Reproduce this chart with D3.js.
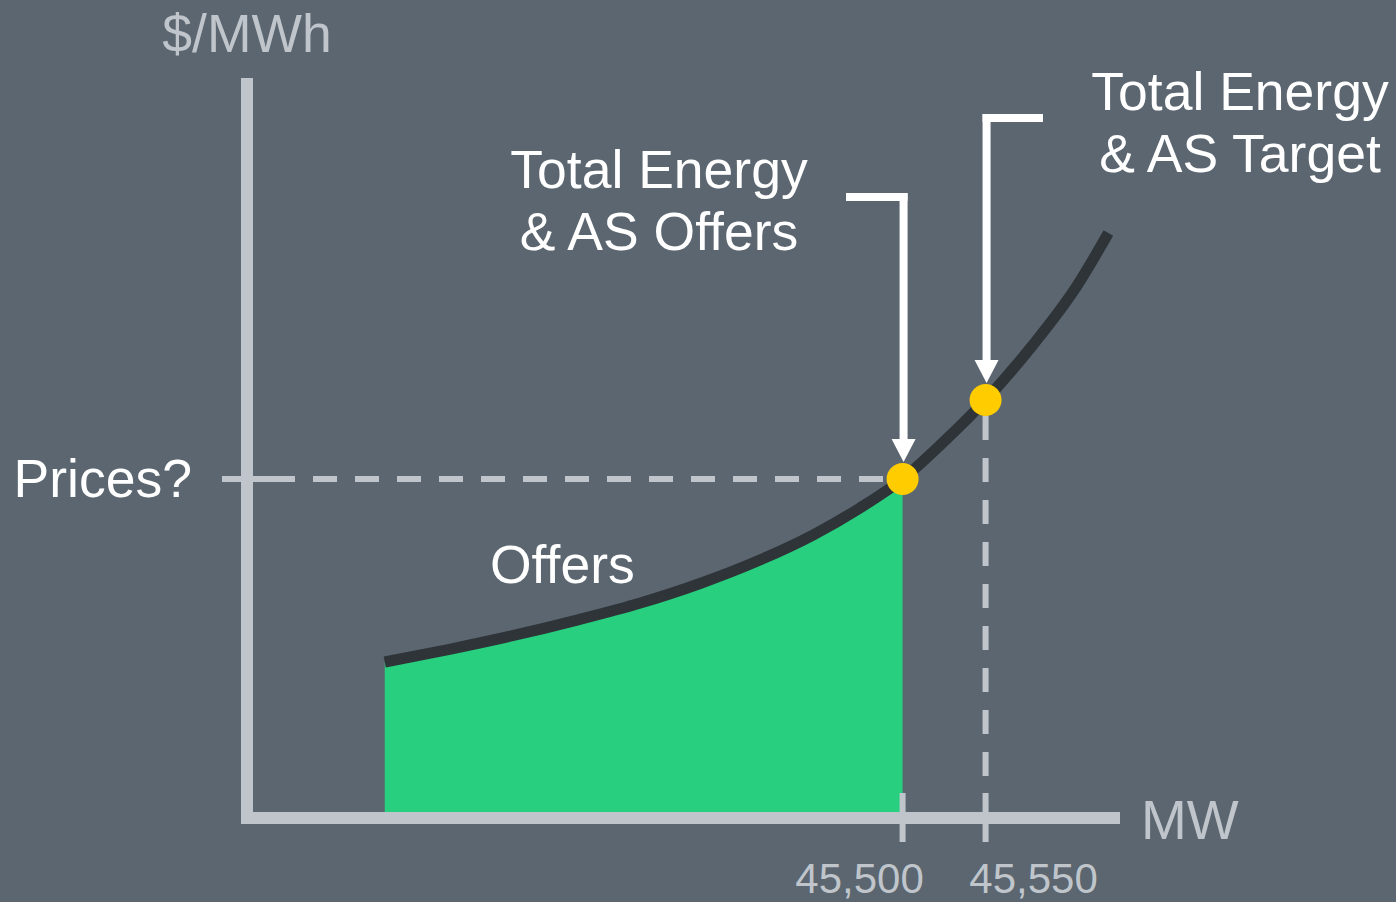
<!DOCTYPE html>
<html>
<head>
<meta charset="utf-8">
<script src="https://cdn.jsdelivr.net/npm/d3@7"></script>
<style>
  html, body { margin: 0; padding: 0; background: #5b6670; }
  svg { display: block; }
  text { font-family: "Liberation Sans", Arial, sans-serif; }
</style>
</head>
<body>
<svg id="chart" width="1396" height="902"></svg>
<script>
// ---- data ----
const offerMW    = [45188, 45227, 45263, 45305, 45342, 45378, 45414, 45446, 45474, 45500, 45524, 45550, 45578, 45605, 45624];
const offerPrice = [21.08, 22.80, 24.53, 26.81, 29.05, 31.69, 34.86, 38.24, 41.85, 45.81, 50.68, 56.49, 63.78, 71.89, 79.05];
const tickValues = [45500, 45550];
const tickLabels = ["45,500", "45,550"];
const offersMW = 45500;      // total energy & AS offers
const targetMW = 45550;      // total energy & AS target
const offersPrice = 45.81;
const targetPrice = 56.49;
const xDomain = [45105, 45631];
const yDomain = [0, 100];

// ---- colours ----
const bg = "#5b6670", axisCol = "#bfc5cb", curveCol = "#2e3438",
      green = "#27cf7e", yellow = "#ffcc00", white = "#ffffff";

const svg = d3.select("#chart");
svg.append("rect").attr("width", 1396).attr("height", 902).attr("fill", bg);

const x = d3.scaleLinear().domain(xDomain).range([247, 1120]);
const y = d3.scaleLinear().domain(yDomain).range([818, 78]);

const pts = offerMW.map((m, i) => ({ m, p: offerPrice[i] }));
const curve = d3.curveMonotoneX;

// clip for the green area (up to the offers point)
svg.append("clipPath").attr("id", "offClip")
  .append("rect").attr("x", 0).attr("y", 0)
  .attr("width", x(offersMW)).attr("height", 902);

svg.append("path")
  .datum(pts)
  .attr("fill", green)
  .attr("clip-path", "url(#offClip)")
  .attr("d", d3.area().x(d => x(d.m)).y0(y(0)).y1(d => y(d.p)).curve(curve));

// dashed guide lines
const dashW = 6;
const r = 16;
svg.append("line")
  .attr("x1", 271).attr("x2", x(offersMW) - r)
  .attr("y1", y(offersPrice)).attr("y2", y(offersPrice))
  .attr("stroke", axisCol).attr("stroke-width", dashW).attr("stroke-dasharray", "24 18");
svg.append("line")
  .attr("x1", x(targetMW)).attr("x2", x(targetMW))
  .attr("y1", y(targetPrice) + r).attr("y2", 793)
  .attr("stroke", axisCol).attr("stroke-width", dashW).attr("stroke-dasharray", "24 18");

// y tick at price
svg.append("line")
  .attr("x1", 222).attr("x2", 271)
  .attr("y1", y(offersPrice)).attr("y2", y(offersPrice))
  .attr("stroke", axisCol).attr("stroke-width", dashW);

// axes
svg.append("line")
  .attr("x1", x(xDomain[0])).attr("x2", x(xDomain[0]))
  .attr("y1", y(yDomain[1])).attr("y2", y(0) + 6)
  .attr("stroke", axisCol).attr("stroke-width", 12);
svg.append("line")
  .attr("x1", x(xDomain[0]) - 6).attr("x2", x(xDomain[1]))
  .attr("y1", y(0)).attr("y2", y(0))
  .attr("stroke", axisCol).attr("stroke-width", 12);

// x ticks
svg.selectAll(".xtick").data(tickValues).enter().append("line")
  .attr("x1", d => x(d)).attr("x2", d => x(d))
  .attr("y1", 793).attr("y2", 842)
  .attr("stroke", axisCol).attr("stroke-width", dashW);

const labelOffsets = [-43, 48];
svg.selectAll(".xlab").data(tickValues).enter().append("text")
  .attr("x", (d, i) => x(d) + labelOffsets[i]).attr("y", 893)
  .attr("text-anchor", "middle").attr("fill", axisCol)
  .attr("font-size", 42).text((d, i) => tickLabels[i]);

// curve
svg.append("path")
  .datum(pts)
  .attr("fill", "none").attr("stroke", curveCol).attr("stroke-width", 11)
  .attr("stroke-linecap", "butt")
  .attr("d", d3.line().x(d => x(d.m)).y(d => y(d.p)).curve(curve));

// arrows
function arrow(xv, yTop, hx1, hx2, tipY) {
  const g = svg.append("g");
  g.append("line").attr("x1", hx1).attr("x2", hx2).attr("y1", yTop).attr("y2", yTop)
    .attr("stroke", white).attr("stroke-width", 8);
  g.append("line").attr("x1", xv).attr("x2", xv).attr("y1", yTop - 4).attr("y2", tipY - 20)
    .attr("stroke", white).attr("stroke-width", 8);
  g.append("path")
    .attr("d", `M${xv - 12},${tipY - 23}L${xv + 12},${tipY - 23}L${xv},${tipY}Z`)
    .attr("fill", white);
}
arrow(x(offersMW) + 1, 197, 846, x(offersMW) + 5, y(offersPrice) - r - 1);
arrow(x(targetMW) + 1, 118, x(targetMW) - 3, 1043, y(targetPrice) - r - 1);

// points
svg.selectAll(".pt").data([[offersMW, offersPrice], [targetMW, targetPrice]]).enter()
  .append("circle")
  .attr("cx", d => x(d[0])).attr("cy", d => y(d[1])).attr("r", r)
  .attr("fill", yellow);

// labels
const fs = 53.5;
svg.append("text").attr("x", x(xDomain[0])).attr("y", 52).attr("text-anchor", "middle")
  .attr("fill", axisCol).attr("font-size", fs).text("$/MWh");
svg.append("text").attr("x", 1141).attr("y", 839)
  .attr("fill", axisCol).attr("font-size", 55).text("MW");
svg.append("text").attr("x", 192).attr("y", 497).attr("text-anchor", "end")
  .attr("fill", white).attr("font-size", fs).text("Prices?");
svg.append("text").attr("x", 490).attr("y", 583)
  .attr("fill", white).attr("font-size", fs).text("Offers");
const t1 = svg.append("text").attr("text-anchor", "middle").attr("fill", white).attr("font-size", fs);
t1.append("tspan").attr("x", 659).attr("y", 188).text("Total Energy");
t1.append("tspan").attr("x", 659).attr("y", 250).text("& AS Offers");
const t2 = svg.append("text").attr("text-anchor", "middle").attr("fill", white).attr("font-size", fs);
t2.append("tspan").attr("x", 1240).attr("y", 110).text("Total Energy");
t2.append("tspan").attr("x", 1240).attr("y", 172).text("& AS Target");
</script>
</body>
</html>
